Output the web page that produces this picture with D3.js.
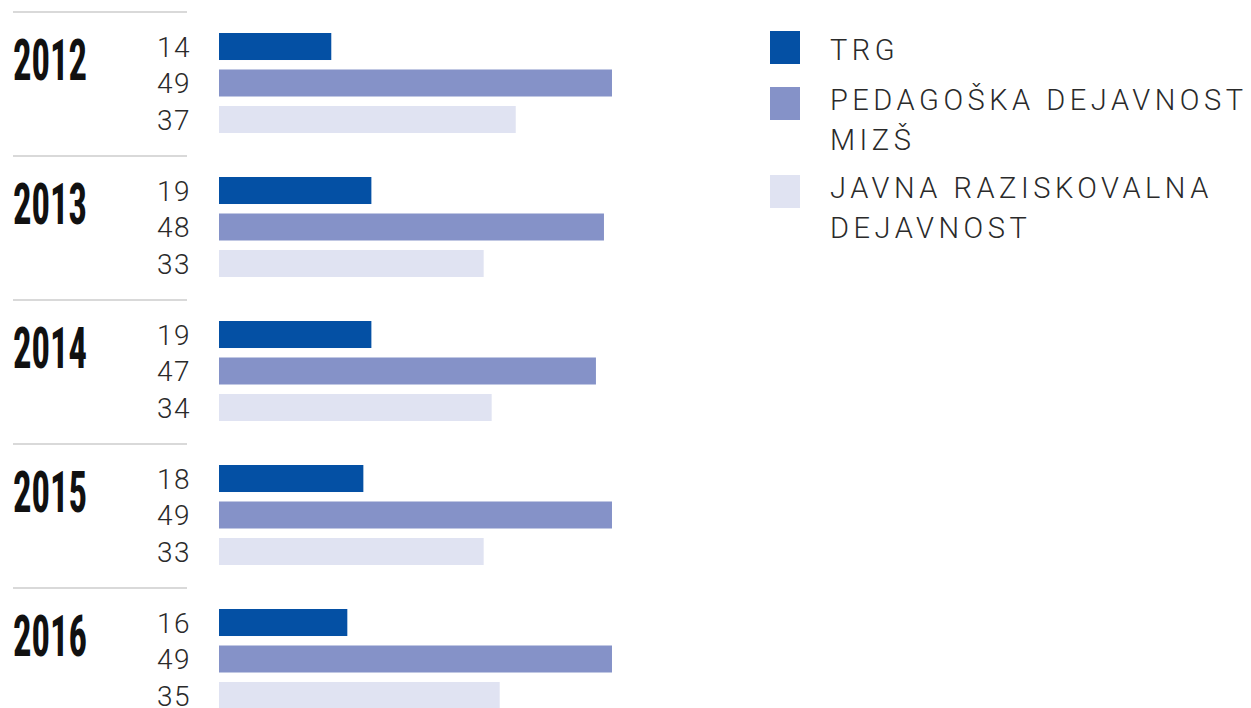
<!DOCTYPE html>
<html>
<head>
<meta charset="utf-8">
<script src="https://cdn.jsdelivr.net/npm/d3@7"></script>
<style>
  html, body { margin: 0; padding: 0; background: #fff; }
  svg { display: block; }
  .year { font-family: "Liberation Sans Narrow", "Roboto Condensed", sans-serif; font-weight: bold; fill: #111; }
  .value { font-family: Roboto, "Open Sans", sans-serif; font-weight: 300; fill: #2a2a2a; }
  .legend-label { font-family: Roboto, "Open Sans", sans-serif; font-weight: 300; fill: #2a2a2a; }
  .sep { stroke: #d9d9d9; stroke-width: 2; }
</style>
</head>
<body>
<svg id="chart" width="1251" height="708"></svg>
<script>
const years = ["2012", "2013", "2014", "2015", "2016"];
const series = ["TRG", "PEDAGOŠKA DEJAVNOST MIZŠ", "JAVNA RAZISKOVALNA DEJAVNOST"];
const trg = [14, 19, 19, 18, 16];
const pedagoska = [49, 48, 47, 49, 49];
const javna = [37, 33, 34, 33, 35];
const legendLines = [["TRG"], ["PEDAGOŠKA DEJAVNOST", "MIZŠ"], ["JAVNA RAZISKOVALNA", "DEJAVNOST"]];

const colors = ["#0450a4", "#8592c8", "#e0e3f2"];
const seriesValues = [trg, pedagoska, javna];

const svg = d3.select("#chart");

// group bands: one per year
const yOuter = d3.scaleBand()
                 .domain(years)
                 .range([12, 12 + 144 * years.length]);

// bars inside a group
const yInner = d3.scaleBand()
                 .domain(series)
                 .range([21, 121])
                 .paddingInner(0.26);

const xScale = d3.scaleLinear()
                 .domain([0, 50])
                 .range([0, 401]);

const barX = 219;

const groups = svg.selectAll("g.year-group")
  .data(years)
  .enter()
  .append("g")
  .attr("class", "year-group")
  .attr("transform", d => `translate(0,${yOuter(d)})`);

groups.append("line")
      .attr("class", "sep")
      .attr("x1", 13)
      .attr("x2", 187)
      .attr("y1", 0)
      .attr("y2", 0);

groups.append("text")
      .attr("class", "year")
      .attr("x", 13)
      .attr("y", 68)
      .attr("font-size", 58)
      .attr("textLength", 74)
      .attr("lengthAdjust", "spacingAndGlyphs")
      .text(d => d);

groups.each(function(year, i) {
  const g = d3.select(this);
  const rows = series.map((s, j) => ({ s, j, v: seriesValues[j][i] }));

  g.selectAll("rect.bar")
   .data(rows)
   .enter()
   .append("rect")
   .attr("class", "bar")
   .attr("x", barX)
   .attr("y", d => yInner(d.s))
   .attr("width", d => xScale(d.v))
   .attr("height", yInner.bandwidth())
   .attr("fill", d => colors[d.j]);

  g.selectAll("text.value")
   .data(rows)
   .enter()
   .append("text")
   .attr("class", "value")
   .attr("x", 191)
   .attr("y", d => yInner(d.s) + yInner.bandwidth() - 3.5)
   .attr("text-anchor", "end")
   .attr("font-size", 28)
   .attr("letter-spacing", 1.5)
   .text(d => d.v);
});

// legend
const legendY = [31, 87, 175];
const legendBase = [29, 23, 23];
const legend = svg.append("g")
                  .attr("class", "legend");

const items = legend.selectAll("g.item")
  .data(series)
  .enter()
  .append("g")
  .attr("class", "item")
  .attr("transform", (d, i) => `translate(770,${legendY[i]})`);

items.append("rect")
     .attr("width", 30)
     .attr("height", 33)
     .attr("fill", (d, i) => colors[i]);

const labels = items.append("text")
     .attr("class", "legend-label")
     .attr("font-size", 29);

labels.each(function(d, i) {
  d3.select(this).selectAll("tspan")
    .data(legendLines[i])
    .enter()
    .append("tspan")
    .attr("x", 60)
    .attr("y", (t, k) => legendBase[i] + k * 40)
    .text(t => t);
});

// fit letter spacing so the widest line spans like the original
const probe = labels.filter((d, i) => i === 1).select("tspan").node();
const natural = probe.getComputedTextLength();
const chars = probe.textContent.length;
const ls = (413 - natural) / (chars - 1);
labels.attr("letter-spacing", ls);
</script>
</body>
</html>
